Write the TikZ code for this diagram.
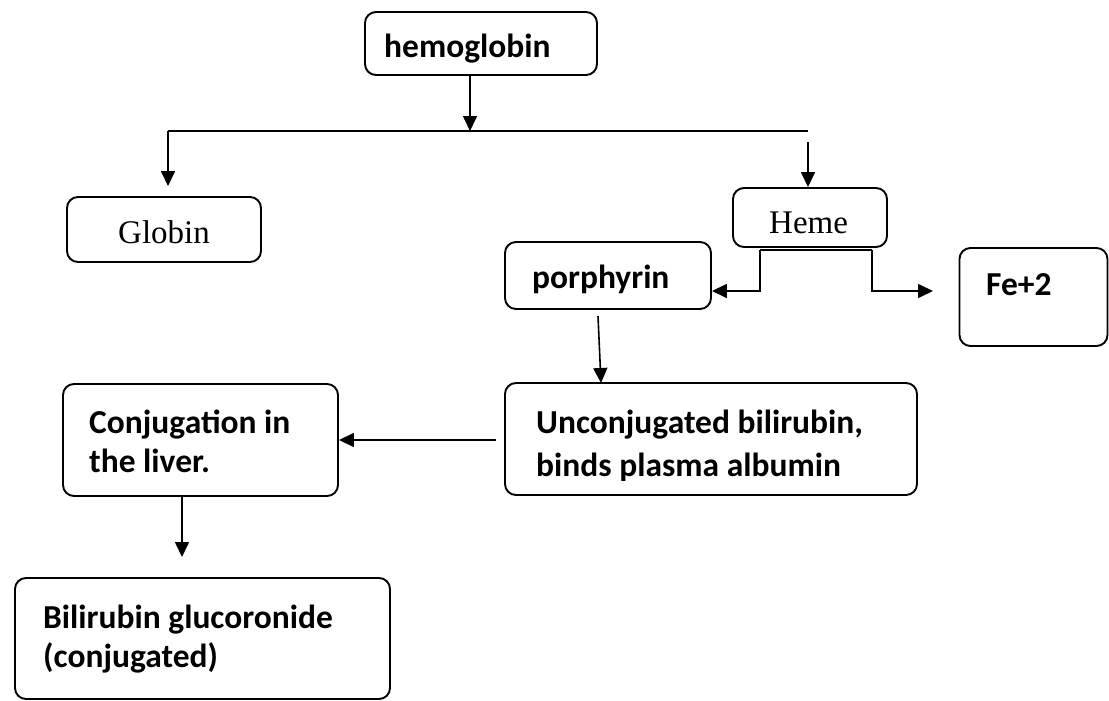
\documentclass[tikz,border=0pt]{standalone}
\usepackage{fontspec}
\newfontfamily\calfont{Carlito}
\newfontfamily\serfont{Liberation Serif}
\usetikzlibrary{arrows.meta}
\begin{document}
\begin{tikzpicture}[x=1pt,y=-1pt,
  box/.style={draw, line width=1.9pt, rounded corners=11pt, inner sep=0pt},
  lbl/.style={anchor=base west, inner sep=0pt, font=\calfont\bfseries\fontsize{33.5}{40}\selectfont},
  slbl/.style={anchor=base west, inner sep=0pt, font=\serfont\fontsize{33}{40}\selectfont},
  conn/.style={line width=1.6pt},
  arr/.style={conn, -{Triangle[length=15pt,width=14pt]}}]
\useasboundingbox (0,0) rectangle (1109,701);
% boxes
\node[box, minimum width=232, minimum height=63] (hemo) at (481,43.5) {};
\node[box, minimum width=194, minimum height=65] (glob) at (164,229.5) {};
\node[box, minimum width=154, minimum height=59] (heme) at (810,217.5) {};
\node[box, minimum width=206, minimum height=67] (porph) at (608,275.5) {};
\node[box, minimum width=148, minimum height=98] (fe) at (1033.5,297) {};
\node[box, minimum width=412, minimum height=112] (unc) at (711,439) {};
\node[box, minimum width=275, minimum height=112] (conj) at (200.5,440) {};
\node[box, minimum width=375, minimum height=121] (bili) at (202.5,638.5) {};
% texts
\node[lbl] (t-hemo) at (384,57.5) {hemoglobin};
\node[slbl] (t-glob) at (118,243) {Globin};
\node[slbl] (t-heme) at (769,233) {Heme};
\node[lbl] (t-porph) at (532,288) {porphyrin};
\node[lbl] (t-fe) at (986,295) {Fe+2};
\node[lbl] (t-unc1) at (536,433.5) {Unconjugated bilirubin,};
\begin{scope}
\clip (500,380) rectangle (920,480.5);
\node[lbl] (t-unc2) at (536,476.5) {binds plasma albumin};
\end{scope}
\node[lbl] (t-conj1) at (89,433) {Conjugation in};
\node[lbl] (t-conj2) at (89,472) {the liver.};
\node[lbl] (t-bili1) at (43,628.5) {Bilirubin glucoronide};
\node[lbl] (t-bili2) at (43,667.5) {(conjugated)};
% connectors
\coordinate (j1) at (470,131);
\coordinate (jl) at (168,131);
\coordinate (jr) at (808,131);
\coordinate (hr) at (808,142);
\coordinate (hl) at (760,291);
\coordinate (hr2) at (872,291);
\coordinate (fein) at (933,291);
\coordinate (pd) at (598,316);
\coordinate (pu) at (601,383);
\coordinate (ua) at (496,440);
\coordinate (cb) at (182,557);
\draw[arr] (hemo.south -| j1) -- (j1);
\draw[conn] (jl) -- (jr);
\draw[arr, shorten >=10pt] (jl) -- (jl |- glob.north);
\draw[arr] (hr) -- (hr |- heme.north);
\draw[arr] ([yshift=-2pt]heme.south -| hl) -- (hl) -- (hl -| porph.east);
\draw[arr] ([yshift=-2pt]heme.south -| hr2) -- (hr2) -- (fein);
\draw[conn] ([yshift=-2pt]heme.south -| hl) -- ([yshift=-2pt]heme.south -| hr2);
\draw[arr] (pd) -- (pu);
\draw[arr] (ua) -- (ua -| conj.east);
\draw[arr] (conj.south -| cb) -- (cb);
\end{tikzpicture}
\end{document}
